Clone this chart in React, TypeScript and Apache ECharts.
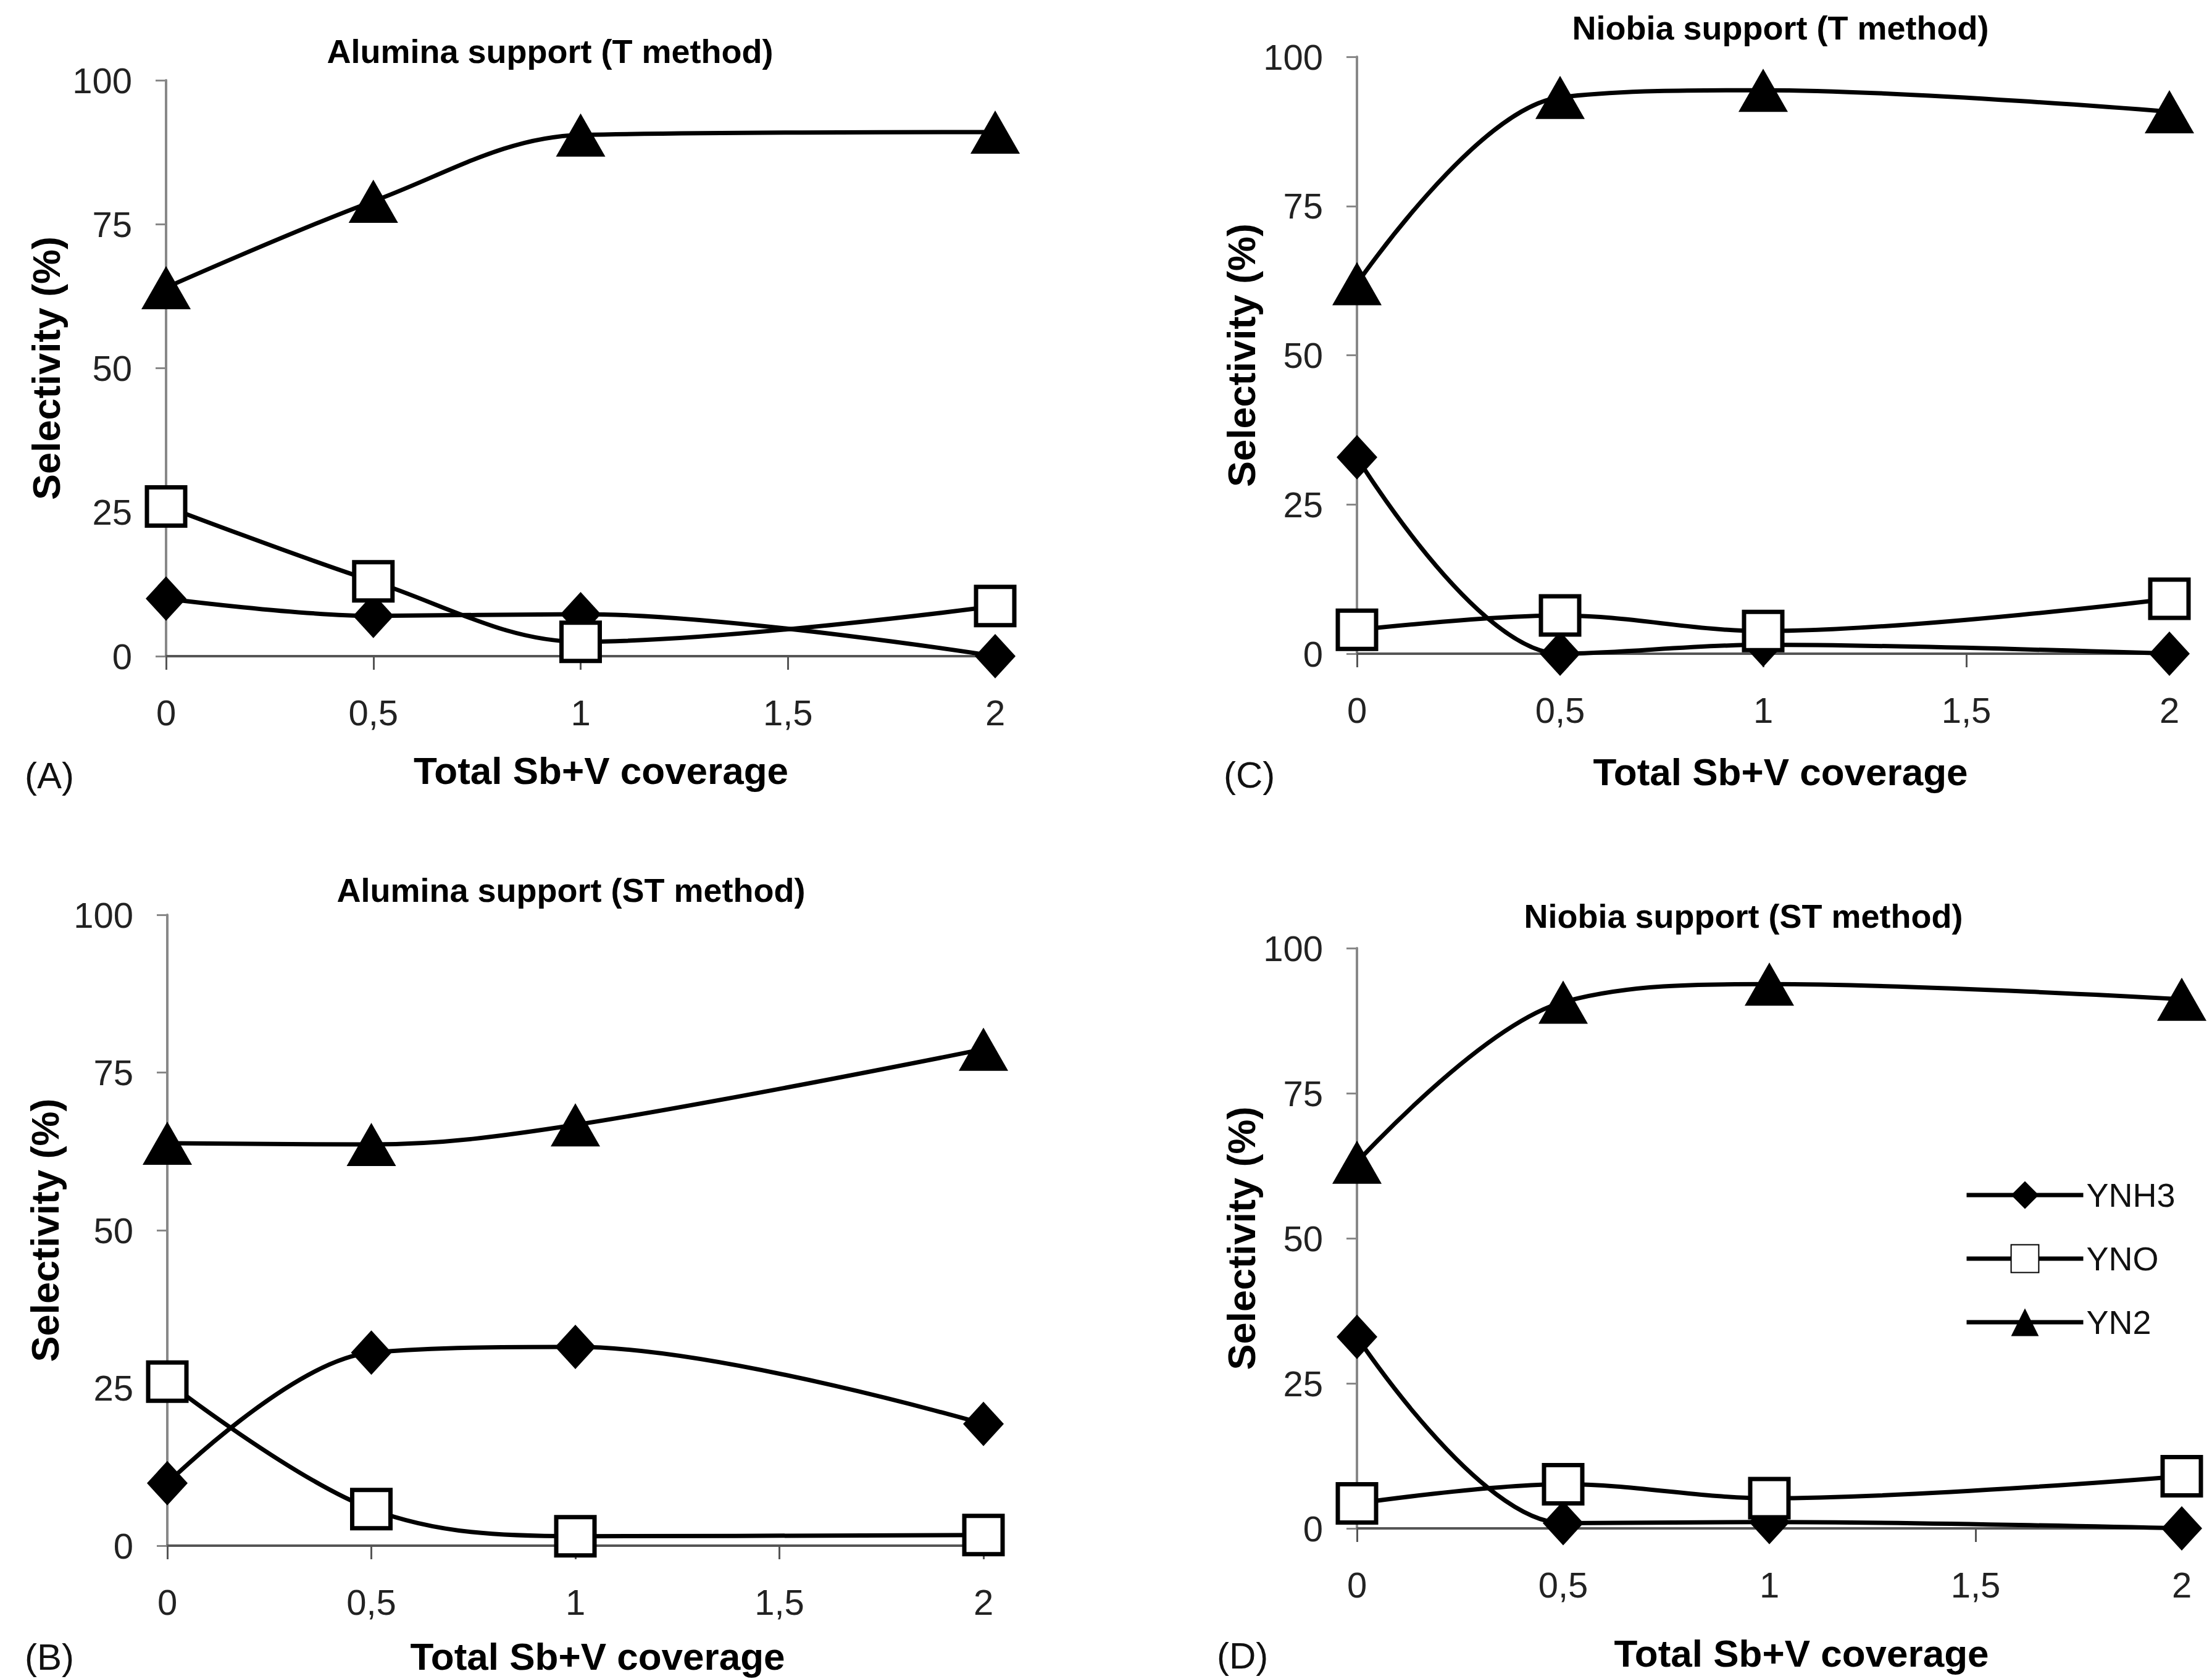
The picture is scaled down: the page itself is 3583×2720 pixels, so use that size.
import React, { useEffect, useRef } from "react";
import * as echarts from "echarts";

// ---- data ----
const xValues = [0, 0.5, 1, 2];
const xTickLabels = ["0", "0,5", "1", "1,5", "2"];
const seriesNames = ["YNH3", "YNO", "YN2"];

const titles = [
  "Alumina support (T method)",
  "Alumina support (ST method)",
  "Niobia support (T method)",
  "Niobia support (ST method)",
];
const panelLabels = ["(A)", "(B)", "(C)", "(D)"];
const xAxisTitle = "Total Sb+V coverage";
const yAxisTitle = "Selectivity (%)";

const A_YNH3 = [10, 7, 7.3, 0];
const A_YNO = [26, 13, 2.5, 8.7];
const A_YN2 = [64, 79, 90.5, 91];

const B_YNH3 = [9.9, 30.6, 31.5, 19.3];
const B_YNO = [26, 5.8, 1.5, 1.7];
const B_YN2 = [63.8, 63.6, 66.7, 78.7];

const C_YNH3 = [32.9, 0, 1.5, 0];
const C_YNO = [4, 6.4, 3.8, 9.2];
const C_YN2 = [62, 93.2, 94.4, 90.8];

const D_YNH3 = [33, 0.9, 1.1, 0];
const D_YNO = [4.3, 7.6, 5.2, 9];
const D_YN2 = [63.1, 90.7, 93.8, 91.2];

const panelData = [
  [A_YNH3, A_YNO, A_YN2],
  [B_YNH3, B_YNO, B_YN2],
  [C_YNH3, C_YNO, C_YN2],
  [D_YNH3, D_YNO, D_YN2],
];

// ---- layout (pixels) ----
const layout = [
  { left: 269, top: 130, width: 1343, height: 933, titleX: 891, titleY: 83, labX: 40, labY: 1256, xGap: 154, xShift: 33, yGap: 163 },
  { left: 271, top: 1482, width: 1322, height: 1022, titleX: 925, titleY: 1442, labX: 40, labY: 2684, xGap: 148, xShift: 36, yGap: 167 },
  { left: 2198, top: 92, width: 1316, height: 967, titleX: 2884, titleY: 45, labX: 1982, labY: 1255, xGap: 160, xShift: 28, yGap: 146 },
  { left: 2198, top: 1536, width: 1336, height: 940, titleX: 2824, titleY: 1484, labX: 1971, labY: 2682, xGap: 171, xShift: 52, yGap: 147 },
];

const FONT = "'Liberation Sans', Arial, Helvetica, sans-serif";
const FONT_NARROW = "'Liberation Sans Narrow', 'Arial Narrow', 'Liberation Sans', Arial, sans-serif";

const symbolStyles = [
  { symbol: "diamond", symbolSize: [66, 72], itemStyle: { color: "#000", borderColor: "#000", borderWidth: 0 } },
  { symbol: "rect", symbolSize: [62, 62], itemStyle: { color: "#fff", borderColor: "#000", borderWidth: 7 } },
  { symbol: "triangle", symbolSize: [80, 70], itemStyle: { color: "#000", borderColor: "#000", borderWidth: 0 } },
];

export default function App() {
  const ref = useRef<HTMLDivElement>(null);

  useEffect(() => {
    if (!ref.current) return;
    const chart = echarts.init(ref.current, null, { renderer: "svg" });

    const grid = layout.map((l) => ({ left: l.left, top: l.top, width: l.width, height: l.height, containLabel: false }));

    const xAxis = layout.map((l, i) => ({
      type: "value",
      gridIndex: i,
      min: 0,
      max: 2,
      interval: 0.5,
      name: xAxisTitle,
      nameLocation: "middle",
      nameGap: l.xGap,
      nameTextStyle: { fontFamily: FONT, fontWeight: "bold", fontSize: 62, color: "#000", padding: [0, 0, 0, 2 * l.xShift] },
      axisLine: { show: true, onZero: false, lineStyle: { color: "#555", width: 4 } },
      axisTick: { show: true, inside: false, length: 22, lineStyle: { color: "#555", width: 3 } },
      axisLabel: {
        margin: 62,
        fontFamily: FONT_NARROW,
        fontSize: 58,
        color: "#222",
        formatter: (v: number) => xTickLabels[Math.round(v / 0.5)] ?? String(v),
      },
      splitLine: { show: false },
    }));

    const yAxis = layout.map((l, i) => ({
      type: "value",
      gridIndex: i,
      min: 0,
      max: 100,
      interval: 25,
      name: yAxisTitle,
      nameLocation: "middle",
      nameGap: l.yGap,
      nameTextStyle: { fontFamily: FONT, fontWeight: "bold", fontSize: 63, color: "#000" },
      axisLine: { show: true, onZero: false, lineStyle: { color: "#888", width: 4 } },
      axisTick: { show: true, inside: false, length: 17, lineStyle: { color: "#888", width: 3 } },
      axisLabel: { margin: 55, fontFamily: FONT_NARROW, fontSize: 58, color: "#222" },
      splitLine: { show: false },
    }));

    const series: any[] = [];
    panelData.forEach((sets, i) => {
      sets.forEach((vals, k) => {
        series.push({
          type: "line",
          name: seriesNames[k],
          xAxisIndex: i,
          yAxisIndex: i,
          data: xValues.map((x, j) => [x, vals[j]]),
          smooth: 0.35,
          clip: false,
          symbol: symbolStyles[k].symbol,
          symbolSize: symbolStyles[k].symbolSize,
          showAllSymbol: true,
          itemStyle: symbolStyles[k].itemStyle,
          lineStyle: { color: "#000", width: 7 },
          z: 2 + k,
        });
      });
    });

    const graphic: any[] = [];
    layout.forEach((l, i) => {
      graphic.push({
        type: "text",
        x: l.titleX,
        y: l.titleY,
        style: { text: titles[i], fontFamily: FONT, fontWeight: "bold", fontSize: 54, fill: "#000", align: "center", verticalAlign: "middle" },
      });
      graphic.push({
        type: "text",
        x: l.labX,
        y: l.labY,
        style: { text: panelLabels[i], fontFamily: FONT, fontSize: 60, fill: "#111", align: "left", verticalAlign: "middle" },
      });
    });

    chart.setOption({
      animation: false,
      backgroundColor: "#fff",
      grid,
      xAxis,
      yAxis,
      series,
      graphic,
      legend: {
        show: true,
        data: seriesNames,
        orient: "vertical",
        left: 3177,
        top: 1904,
        itemWidth: 189,
        itemHeight: 56,
        itemGap: 49,
        lineStyle: { color: "#000", width: 7 },
        textStyle: { fontFamily: FONT_NARROW, fontSize: 54, color: "#111" },
      },
    });

    return () => chart.dispose();
  }, []);

  return <div ref={ref} style={{ position: "fixed", left: 0, top: 0, width: 3583, height: 2720 }} />;
}
